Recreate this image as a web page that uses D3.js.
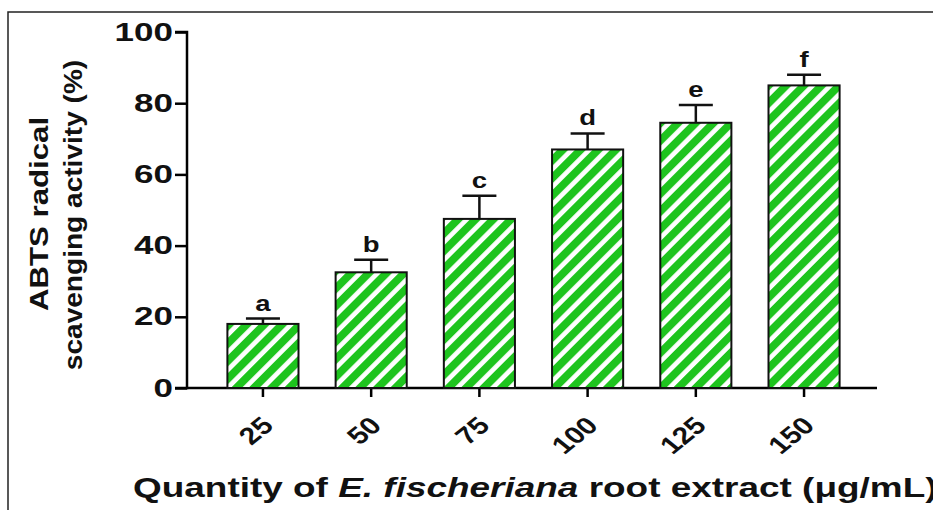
<!DOCTYPE html>
<html>
<head>
<meta charset="utf-8">
<script src="https://cdn.jsdelivr.net/npm/d3@7"></script>
<style>
  body { margin: 0; background: #fff; }
  text { font-family: "Liberation Sans", Arial, sans-serif; font-weight: bold; fill: #111; }
</style>
</head>
<body>
<svg width="933" height="510"></svg>
<script>
var CATEGORIES = ['25', '50', '75', '100', '125', '150']; // ug/mL
var MEANS = [18, 32.5, 47.5, 67, 74.5, 85];
var ERRORS = [1.5, 3.5, 6.5, 4.5, 5, 3];
var LETTERS = ['a', 'b', 'c', 'd', 'e', 'f'];
var Y_TICKS = [0, 20, 40, 60, 80, 100];

var svg = d3.select('svg');

// outer frame
svg.append('rect')
  .attr('x', 8).attr('y', 12)
  .attr('width', 960).attr('height', 520)
  .attr('fill', 'none').attr('stroke', '#222').attr('stroke-width', 1.5);

// stripe pattern
var defs = svg.append('defs');
var pat = defs.append('pattern')
  .attr('id', 'stripes')
  .attr('patternUnits', 'userSpaceOnUse')
  .attr('width', 12.5).attr('height', 12.5)
  .attr('patternTransform', 'rotate(45)');
pat.append('rect').attr('width', 12.5).attr('height', 12.5).attr('fill', '#fff');
pat.append('rect').attr('width', 7.8).attr('height', 12.5).attr('fill', '#1ec41e');

var plotL = 187, plotT = 32, plotB = 388, plotR = 877;

var x = d3.scaleBand()
  .domain(CATEGORIES)
  .range([209, 858])
  .paddingInner(0.343)
  .paddingOuter(0.17);

var y = d3.scaleLinear().domain([0, 100]).range([plotB, plotT]);

// y axis
var yAxis = d3.axisLeft(y).tickValues(Y_TICKS).tickSize(12);
var gy = svg.append('g').attr('transform', 'translate(' + plotL + ',0)').call(yAxis);
gy.select('.domain').attr('stroke-width', 2.5).attr('d', 'M-12,' + plotT + 'H0V' + plotB + 'H-12');
gy.selectAll('.tick line').attr('stroke-width', 2.5);
gy.selectAll('.tick text')
  .style('font-size', '25px')
  .style('font-family', '"Liberation Sans", Arial, sans-serif')
  .style('font-weight', 'bold')
  .attr('fill', '#111')
  .attr('x', 0)
  .attr('transform', 'translate(-14,0) scale(1.4,1)');

// x axis
var xAxis = d3.axisBottom(x).tickSize(9).tickSizeOuter(0);
var gx = svg.append('g').attr('transform', 'translate(0,' + plotB + ')').call(xAxis);
gx.select('.domain').attr('stroke-width', 2.5).attr('d', 'M' + plotL + ',0H' + plotR);
gx.selectAll('.tick line').attr('stroke-width', 2.5);
gx.selectAll('.tick text')
  .style('font-size', '24px')
  .style('font-family', '"Liberation Sans", Arial, sans-serif')
  .style('font-weight', 'bold')
  .attr('fill', '#111')
  .attr('text-anchor', 'end')
  .attr('x', 0).attr('y', 0).attr('dy', 0)
  .attr('transform', 'translate(12,39) scale(1.25,1) rotate(-45)');

// bars
svg.append('g').selectAll('rect')
  .data(MEANS)
  .enter().append('rect')
  .attr('x', function(d, i) { return x(CATEGORIES[i]); })
  .attr('y', function(d) { return y(d); })
  .attr('width', x.bandwidth())
  .attr('height', function(d) { return plotB - y(d); })
  .attr('fill', 'url(#stripes)')
  .attr('stroke', '#111')
  .attr('stroke-width', 2);

// error bars
var eb = svg.append('g').attr('stroke', '#111').attr('stroke-width', 2.5);
MEANS.forEach(function(m, i) {
  var cx = x(CATEGORIES[i]) + x.bandwidth() / 2;
  eb.append('line').attr('x1', cx).attr('x2', cx).attr('y1', y(m)).attr('y2', y(m + ERRORS[i]));
  eb.append('line').attr('x1', cx - 17).attr('x2', cx + 17).attr('y1', y(m + ERRORS[i])).attr('y2', y(m + ERRORS[i]));
});

// significance letters
svg.append('g').selectAll('text')
  .data(LETTERS)
  .enter().append('text')
  .attr('transform', function(d, i) {
    var cx = x(CATEGORIES[i]) + x.bandwidth() / 2;
    return 'translate(' + cx + ',' + (y(MEANS[i] + ERRORS[i]) - 8) + ') scale(1.25,1)';
  })
  .attr('text-anchor', 'middle')
  .style('font-size', '22px')
  .text(function(d) { return d; });

// y title
svg.append('text')
  .attr('transform', 'translate(48,214) rotate(-90) scale(1.2,1)')
  .attr('text-anchor', 'middle')
  .style('font-size', '26px')
  .text('ABTS radical');
svg.append('text')
  .attr('transform', 'translate(82,215) rotate(-90) scale(1.08,1)')
  .attr('text-anchor', 'middle')
  .style('font-size', '26px')
  .text('scavenging activity (%)');

// x title
var xt = svg.append('text')
  .attr('transform', 'translate(133,497) scale(1.32,1)')
  .style('font-size', '28px');
xt.append('tspan').text('Quantity of ');
xt.append('tspan').style('font-style', 'italic').text('E. fischeriana');
xt.append('tspan').text(' root extract (\u03bcg/mL)');
</script>
</body>
</html>
